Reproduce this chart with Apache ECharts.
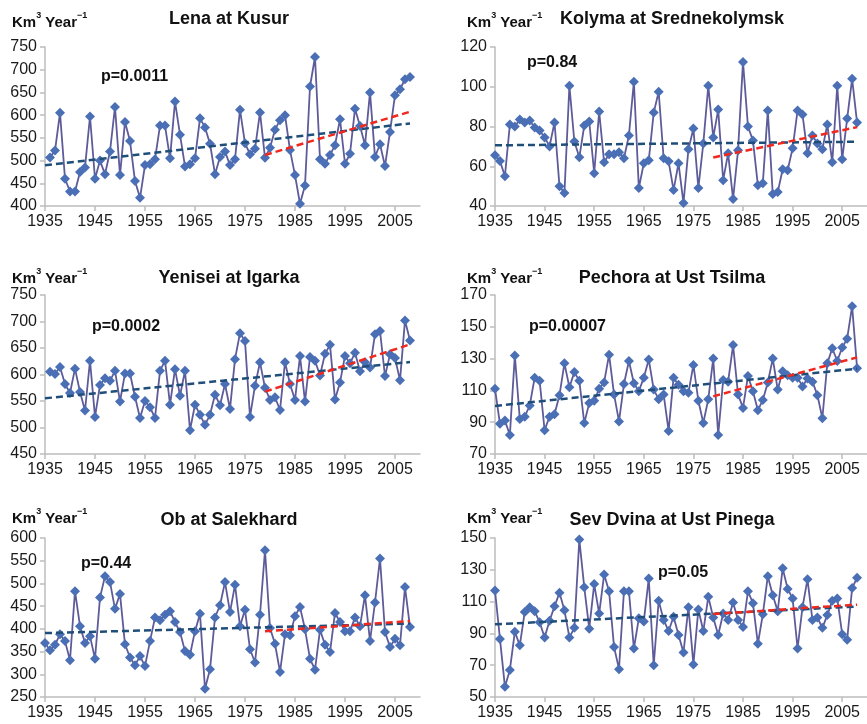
<!DOCTYPE html>
<html>
<head>
<meta charset="utf-8">
<script src="https://cdn.jsdelivr.net/npm/echarts@6/dist/echarts.min.js"></script>
<style>
  html, body { margin: 0; background: #fff; }
  #chart-container { width: 867px; height: 724px; }
</style>
</head>
<body>
<div id="chart-container"></div>
<script>
var dom = document.getElementById("chart-container");
var myChart = echarts.init(dom, null, { renderer: "canvas" });

// annual discharge, km3/year
var lenaStart = 1936;
var lenaFlow = [
  507, 522, 605, 460, 432, 432, 475, 485, 597, 460,
  500, 470, 520, 618, 468, 585, 543, 455, 418, 490,
  492, 503, 577, 577, 505, 630, 557, 487, 492, 505,
  593, 573, 537, 470, 508, 520, 490, 503, 612, 538,
  514, 526, 606, 506, 528, 568, 589, 600, 523, 468,
  405, 445, 663, 728, 503, 493, 512, 534, 591, 493,
  515, 614, 576, 534, 650, 508, 536, 488, 563, 644,
  657, 679, 684
];

var kolymaStart = 1935;
var kolymaFlow = [
  65.5, 62.6, 55, 81, 80, 83.5, 82, 83, 79.5, 78,
  74.5, 70, 82, 50, 46.5, 100.5, 72.5, 64.5, 80.5, 82.5,
  56.5, 87.5, 62, 66, 66, 67, 64, 75.5, 102.5, 49,
  61.5, 63, 87, 97.5, 64, 62.5, 48, 61.5, 41.5, 68.5,
  79, 49, 71.5, 100.5, 74.5, 88.5, 53, 66.5, 43.5, 68,
  112.5, 80, 73, 50.5, 51.5, 88, 46, 47, 58.5, 58,
  69, 88, 86, 66.5, 75.5, 71.5, 68.5, 81, 62, 100.5,
  63.5, 84, 104, 82
];

var yeniseiStart = 1936;
var yeniseiFlow = [
  605, 601, 614, 582, 565, 611, 567, 532, 626, 520,
  580, 593, 588, 607, 549, 602, 602, 558, 518, 550,
  538, 518, 607, 626, 543, 610, 560, 607, 495, 543,
  524, 505, 524, 562, 542, 582, 535, 629, 678, 663,
  520, 579, 623, 575, 552, 557, 533, 623, 582, 552,
  635, 549, 633, 626, 598, 639, 656, 553, 585, 635,
  621, 641, 606, 623, 613, 676, 682, 597, 638, 631,
  589, 702, 664
];

var pechoraStart = 1935;
var pechoraFlow = [
  111, 89, 91, 82, 132, 92, 93.5, 100.5, 118, 116,
  85, 93.5, 95, 107, 127, 112, 121.5, 116, 89.5, 102,
  103.5, 111, 115, 132.5, 107.5, 90.5, 114, 128.5, 114.5, 109.5,
  118, 129.5, 110.5, 104.5, 107.5, 84.5, 118, 113.5, 109.5, 108.5,
  126, 103.5, 89.5, 104.5, 130, 82, 116.5, 115.5, 138.5, 107.5,
  99, 119, 109.5, 97.5, 104, 115, 130, 110.5, 122, 119.5,
  118, 118, 112.5, 117.5, 115.5, 107, 92.5, 127, 136.5, 128.5,
  137, 142.5, 163, 124
];

var obStart = 1935;
var obFlow = [
  369, 353, 365, 388, 373, 331, 483, 406, 369, 384,
  334, 469, 516, 503, 444, 477, 366, 337, 320, 340,
  318, 373, 425, 419, 431, 439, 415, 393, 351, 343,
  395, 433, 268, 311, 425, 452, 503, 437, 497, 406,
  442, 355, 326, 431, 573, 402, 367, 305, 388, 386,
  428, 448, 399, 334, 310, 398, 365, 349, 435, 415,
  395, 395, 425, 406, 474, 373, 458, 555, 393, 360,
  378, 364, 492, 404
];

var dvinaStart = 1935;
var dvinaFlow = [
  117, 86.5, 56.5, 67, 91, 82.5, 103.5, 106.5, 104, 97,
  87.5, 98, 107, 115.5, 104.5, 87.5, 93.5, 149, 119, 93,
  121, 102.5, 127, 116.5, 81.5, 67.5, 116.5, 116.5, 80.5, 99.5,
  97.5, 124.5, 70, 110.5, 98.5, 91.5, 100.5, 89, 78, 106.5,
  70.5, 105, 91.5, 113, 100, 89, 102.5, 98.5, 109.5, 98.5,
  94, 116.5, 109, 83.5, 102, 126, 114, 104, 131, 118,
  112, 80.5, 106.5, 124, 98.5, 100, 93.5, 101.5, 110.5, 112,
  89.5, 86, 118.5, 125
];

var stations = ["Lena at Kusur", "Kolyma at Srednekolymsk", "Yenisei at Igarka",
  "Pechora at Ust Tsilma", "Ob at Salekhard", "Sev Dvina at Ust Pinega"];
var starts = [lenaStart, kolymaStart, yeniseiStart, pechoraStart, obStart, dvinaStart];
var flows = [lenaFlow, kolymaFlow, yeniseiFlow, pechoraFlow, obFlow, dvinaFlow];
var pValues = ["p=0.0011", "p=0.84", "p=0.0002", "p=0.00007", "p=0.44", "p=0.05"];
var yMins = [400, 40, 450, 70, 250, 50];
var yMaxs = [750, 120, 750, 170, 600, 150];
var ySteps = [50, 20, 50, 20, 50, 20];

var firstYear = 1935, lastYear = 2008, axisEnd = 2010, recentFrom = 1979;

var axisYears = [];
for (var yr = firstYear; yr <= axisEnd; yr++) axisYears.push(String(yr));

// layout (pixels)
var colLeft = [45, 495];
var rowTop = [47, 295, 538];
var plotW = 375, plotH = 159;
var titleTop = [10, 269, 511];
var unitTop = [11, 267, 507];
var unitLeft = [12, 467];
var titleX = [229, 672];
var pPos = [[101, 69], [527, 55], [92, 319], [529, 319], [81, 556], [658, 565]];

var FONT = "'Liberation Sans', Arial, sans-serif";

function pairs(start, vals) {
  return vals.map(function (v, i) { return [String(start + i), v]; });
}

// least squares trend over [from, to], drawn between drawFrom and to
function trend(start, vals, from, to, drawFrom) {
  var n = 0, sx = 0, sy = 0, sxx = 0, sxy = 0;
  vals.forEach(function (v, i) {
    var x = start + i;
    if (x < from || x > to) return;
    n++; sx += x; sy += v; sxx += x * x; sxy += x * v;
  });
  var b = (n * sxy - sx * sy) / (n * sxx - sx * sx);
  var a = (sy - b * sx) / n;
  return [[String(drawFrom), a + b * drawFrom], [String(to), a + b * to]];
}

var grids = [], xAxes = [], yAxes = [], series = [], graphics = [];

stations.forEach(function (name, k) {
  var col = k % 2, row = Math.floor(k / 2);
  grids.push({ left: colLeft[col], top: rowTop[row], width: plotW, height: plotH });

  xAxes.push({
    type: "category",
    gridIndex: k,
    data: axisYears,
    boundaryGap: false,
    axisLine: { lineStyle: { color: "#bdbdbd", width: 1.5 } },
    axisTick: { interval: 9, length: 5, lineStyle: { color: "#bdbdbd", width: 1.5 } },
    axisLabel: { interval: 9, fontSize: 16, color: "#1a1a1a", fontFamily: FONT, margin: 8 },
    splitLine: { show: false }
  });

  yAxes.push({
    type: "value",
    gridIndex: k,
    min: yMins[k],
    max: yMaxs[k],
    interval: ySteps[k],
    axisLine: { show: true, lineStyle: { color: "#bdbdbd", width: 1.5 } },
    axisTick: { show: true, length: 5, lineStyle: { color: "#bdbdbd", width: 1.5 } },
    axisLabel: { fontSize: 16, color: "#1a1a1a", fontFamily: FONT, margin: 8 },
    splitLine: { show: false }
  });

  series.push({
    type: "line",
    xAxisIndex: k,
    yAxisIndex: k,
    data: pairs(starts[k], flows[k]),
    symbol: "diamond",
    symbolSize: 10,
    showAllSymbol: true,
    itemStyle: { color: "#4b6fb5" },
    lineStyle: { color: "#5d5b99", width: 1.8 },
    z: 2
  });

  series.push({
    type: "line",
    xAxisIndex: k,
    yAxisIndex: k,
    data: trend(starts[k], flows[k], firstYear, lastYear, firstYear),
    symbol: "none",
    lineStyle: { color: "#1f4e79", width: 2.5, type: [7, 4] },
    z: 3
  });

  series.push({
    type: "line",
    xAxisIndex: k,
    yAxisIndex: k,
    data: trend(starts[k], flows[k], recentFrom, lastYear, recentFrom),
    symbol: "none",
    lineStyle: { color: "#f0281e", width: 2.5, type: [7, 4] },
    z: 4
  });

  graphics.push({
    type: "text",
    x: titleX[col],
    y: titleTop[row],
    style: { text: name, font: "bold 18px " + FONT, fill: "#111", align: "center", verticalAlign: "top" }
  });

  graphics.push({
    type: "text",
    x: unitLeft[col],
    y: unitTop[row],
    style: {
      text: "{b|Km}{s|3}{b| Year}{s|\u22121}",
      fill: "#111",
      verticalAlign: "top",
      rich: {
        b: { fontSize: 15, fontWeight: "bold", fontFamily: FONT, lineHeight: 19, verticalAlign: "bottom" },
        s: { fontSize: 9, fontWeight: "bold", fontFamily: FONT, lineHeight: 19, verticalAlign: "top" }
      }
    }
  });

  graphics.push({
    type: "text",
    x: pPos[k][0],
    y: pPos[k][1],
    style: { text: pValues[k], font: "bold 16px " + FONT, fill: "#111", verticalAlign: "top" }
  });
});

var option = {
  animation: false,
  backgroundColor: "#fff",
  grid: grids,
  xAxis: xAxes,
  yAxis: yAxes,
  series: series,
  graphic: graphics
};

myChart.setOption(option);
</script>
</body>
</html>
